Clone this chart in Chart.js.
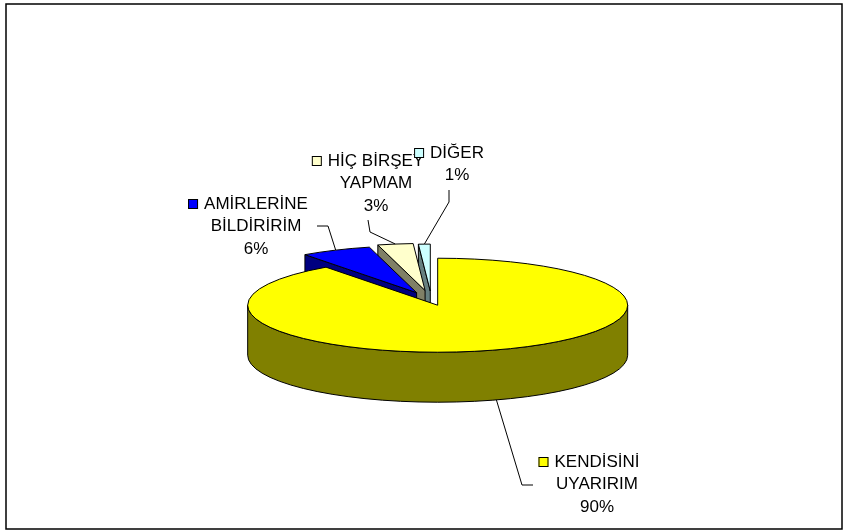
<!DOCTYPE html>
<html lang="tr">
<head>
<meta charset="UTF-8">
<title>Pasta grafiği</title>
<script src="https://cdn.jsdelivr.net/npm/chart.js"></script>
<style>
  html, body { margin: 0; padding: 0; background: #fff; }
  #wrap { width: 843px; height: 531px; }
</style>
</head>
<body>
<div id="wrap"><canvas id="pie" width="843" height="531"></canvas></div>
<script>
// data
const categories = [['KENDİSİNİ', 'UYARIRIM'], ['AMİRLERİNE', 'BİLDİRİRİM'], ['HİÇ BİRŞEY', 'YAPMAM'], ['DİĞER']];
const values = [90, 6, 3, 1];
const explode = [20, 35, 41, 38];

// styles
const topColors = ['#ffff00', '#0000ff', '#ffffcc', '#ccffff'];
const sideColors = ['#808000', '#000080', '#808066', '#668080'];
const TILT = 47 / 190;   // how flat the pie looks
const DEPTH = 50;        // thickness of the pie in px

// where the labels sit: centre x, first line y, leader bend points
const labelLayout = [
  { x: 597, y: 462, bends: [[533, 485], [522, 485]] },
  { x: 256, y: 204, bends: [[317, 226], [328, 226]] },
  { x: 376, y: 161, bends: [[368, 220], [370, 232]] },
  { x: 457, y: 153, bends: [[449, 190], [449, 202]] }
];

function sliceGeom(el) {
  const R = el.outerRadius;
  const m = (el.startAngle + el.endAngle) / 2;
  const off = el.options.offset || 0;
  return {
    R: R, ry: R * TILT, a0: el.startAngle, a1: el.endAngle, m: m,
    cx: el.x + Math.cos(m) * off,
    cy: el.y + Math.sin(m) * off * TILT
  };
}

function drawSlice(ctx, el, i) {
  const g = sliceGeom(el);
  const pt = (a, d) => [g.cx + g.R * Math.cos(a), g.cy + g.ry * Math.sin(a) + d];

  ctx.fillStyle = sideColors[i];
  // cut faces
  [[g.a0, Math.cos(g.a0) < -1e-6], [g.a1, Math.cos(g.a1) > 1e-6]].forEach(([a, vis]) => {
    if (!vis) return;
    const p = pt(a, 0);
    ctx.beginPath();
    ctx.moveTo(g.cx, g.cy);
    ctx.lineTo(p[0], p[1]);
    ctx.lineTo(p[0], p[1] + DEPTH);
    ctx.lineTo(g.cx, g.cy + DEPTH);
    ctx.closePath();
    ctx.fill();
    ctx.stroke();
  });
  // outer wall, front half only
  for (let k = -1; k <= 1; k++) {
    const s = Math.max(g.a0, k * 2 * Math.PI);
    const e = Math.min(g.a1, k * 2 * Math.PI + Math.PI);
    if (e <= s) continue;
    ctx.beginPath();
    ctx.ellipse(g.cx, g.cy, g.R, g.ry, 0, s, e);
    ctx.ellipse(g.cx, g.cy + DEPTH, g.R, g.ry, 0, e, s, true);
    ctx.closePath();
    ctx.fill();
    ctx.stroke();
  }
  // top
  ctx.fillStyle = topColors[i];
  ctx.beginPath();
  ctx.moveTo(g.cx, g.cy);
  ctx.ellipse(g.cx, g.cy, g.R, g.ry, 0, g.a0, g.a1);
  ctx.closePath();
  ctx.fill();
  ctx.stroke();
}

const pie3d = {
  id: 'pie3d',
  beforeDatasetsDraw(chart) {
    const ctx = chart.ctx;
    const arcs = chart.getDatasetMeta(0).data;
    const mids = arcs.map(a => Math.sin((a.startAngle + a.endAngle) / 2));
    const order = arcs.map((a, i) => i).sort((i, j) => mids[i] - mids[j]);
    ctx.save();
    ctx.lineWidth = 1;
    ctx.strokeStyle = '#000';
    ctx.lineJoin = 'round';
    order.forEach(i => drawSlice(ctx, arcs[i], i));
    ctx.restore();
    return false;
  },
  afterDraw(chart) {
    const ctx = chart.ctx;
    const arcs = chart.getDatasetMeta(0).data;
    const total = values.reduce((s, v) => s + v, 0);
    ctx.save();
    ctx.font = '17px "Liberation Sans", Arial, sans-serif';
    ctx.textAlign = 'center';
    ctx.textBaseline = 'middle';
    arcs.forEach((el, i) => {
      const g = sliceGeom(el);
      const lay = labelLayout[i];
      const front = Math.sin(g.m) > 0;
      const sx = g.cx + g.R * Math.cos(g.m);
      const sy = g.cy + g.ry * Math.sin(g.m) + (front ? DEPTH : 0);
      // leader line
      ctx.strokeStyle = '#000';
      ctx.lineWidth = 1;
      ctx.beginPath();
      ctx.moveTo(lay.bends[0][0], lay.bends[0][1]);
      lay.bends.slice(1).forEach(b => ctx.lineTo(b[0], b[1]));
      ctx.lineTo(sx, sy);
      ctx.stroke();
      // text
      const lines = categories[i].concat([Math.round(values[i] / total * 100) + '%']);
      ctx.fillStyle = '#000';
      lines.forEach((t, n) => ctx.fillText(t, lay.x, lay.y + n * 22.5));
      // legend key
      const w = ctx.measureText(lines[0]).width;
      const kx = lay.x - w / 2 - 16;
      ctx.fillStyle = topColors[i];
      ctx.fillRect(kx, lay.y - 5, 10, 10);
      ctx.strokeRect(kx + 0.5, lay.y - 4.5, 9, 9);
    });
    // chart area frame
    ctx.strokeStyle = '#000';
    ctx.lineWidth = 1.5;
    ctx.strokeRect(6, 4, 836, 525);
    ctx.restore();
  }
};

new Chart(document.getElementById('pie'), {
  type: 'pie',
  data: {
    labels: categories.map(c => c.join(' ')),
    datasets: [{
      data: values,
      backgroundColor: topColors,
      offset: explode,
      borderWidth: 0,
      radius: 190
    }]
  },
  options: {
    responsive: false,
    animation: false,
    events: [],
    layout: { padding: { left: 241.5, right: 221.5, top: 110.5, bottom: 40.5 } },
    plugins: {
      legend: { display: false },
      tooltip: { enabled: false }
    }
  },
  plugins: [pie3d]
});
</script>
</body>
</html>
